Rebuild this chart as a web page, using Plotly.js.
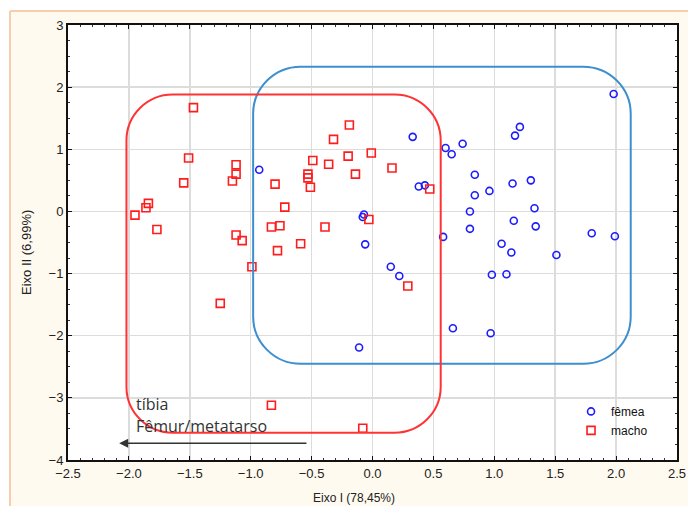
<!DOCTYPE html>
<html>
<head>
<meta charset="utf-8">
<script src="https://cdn.plot.ly/plotly-3.0.1.min.js"></script>
<style>html,body{margin:0;padding:0;background:#fff;}#chart{width:688px;height:506px;}</style>
</head>
<body>
<div id="chart"></div>
<script>
// Female (fêmea) scores
const femeaX = [-0.93, -0.07, -0.08, -0.06, 0.15, 0.22, -0.11, 0.33, 0.60, 0.65, 0.74, 1.17, 1.21, 1.98,
  0.84, 1.15, 1.30, 0.38, 0.43, 0.84, 0.96, 0.80, 1.33, 1.16, 1.34, 0.80, 0.58, 1.06, 1.14, 1.80, 1.99,
  1.51, 0.98, 1.10, 0.66, 0.97];
const femeaY = [0.67, -0.05, -0.09, -0.53, -0.89, -1.04, -2.19, 1.20, 1.02, 0.92, 1.09, 1.22, 1.36, 1.89,
  0.59, 0.45, 0.50, 0.40, 0.42, 0.26, 0.33, 0.00, 0.05, -0.15, -0.24, -0.28, -0.41, -0.52, -0.66, -0.35, -0.40,
  -0.70, -1.02, -1.01, -1.88, -1.96];
// Male (macho) scores
const machoX = [-1.47, -1.51, -1.55, -1.12, -1.12, -1.15, -1.84, -1.86, -1.95, -1.77, -1.12, -1.07,
  -0.19, -0.32, -0.20, -0.01, -0.49, -0.36, 0.16, -0.14, -0.53, -0.53, -0.51, -0.80, -0.72, -0.03,
  -0.83, -0.76, -0.39, -0.78, -0.59, -0.99, -1.25, 0.29, -0.83, -0.08, 0.47];
const machoY = [1.67, 0.86, 0.46, 0.75, 0.60, 0.49, 0.13, 0.06, -0.06, -0.29, -0.38, -0.47,
  1.39, 1.16, 0.89, 0.94, 0.82, 0.76, 0.70, 0.60, 0.60, 0.54, 0.39, 0.44, 0.07, -0.13,
  -0.25, -0.23, -0.25, -0.63, -0.52, -0.89, -1.48, -1.20, -3.12, -3.49, 0.36];

const seriesNames = ['fêmea', 'macho'];
const xTitle = 'Eixo I (78,45%)';
const yTitle = 'Eixo II (6,99%)';
const xTickVals = [-2.5, -2.0, -1.5, -1.0, -0.5, 0.0, 0.5, 1.0, 1.5, 2.0, 2.5];
const yTickVals = [-4, -3, -2, -1, 0, 1, 2, 3];

// group envelopes (data bounds) and arrow annotation
const blueBox = {x0: -0.98, x1: 2.12, y0: -2.45, y1: 2.33};
const redBox = {x0: -2.02, x1: 0.56, y0: -3.56, y1: 1.88};
const arrowFrom = [-0.53, -3.73];
const arrowTo = [-2.08, -3.73];
const label1 = {text: 'tíbia', x: -1.955, y: -3.10};
const label2 = {text: 'Fêmur/metatarso', x: -1.955, y: -3.45};

function roundRect(b, rx, ry) {
  const k = 0.5523;
  const {x0, x1, y0, y1} = b;
  return `M ${x0 + rx},${y1} L ${x1 - rx},${y1} ` +
    `C ${x1 - rx + k * rx},${y1} ${x1},${y1 - ry + k * ry} ${x1},${y1 - ry} ` +
    `L ${x1},${y0 + ry} ` +
    `C ${x1},${y0 + ry - k * ry} ${x1 - rx + k * rx},${y0} ${x1 - rx},${y0} ` +
    `L ${x0 + rx},${y0} ` +
    `C ${x0 + rx - k * rx},${y0} ${x0},${y0 + ry - k * ry} ${x0},${y0 + ry} ` +
    `L ${x0},${y1 - ry} ` +
    `C ${x0},${y1 - ry + k * ry} ${x0 + rx - k * rx},${y1} ${x0 + rx},${y1} Z`;
}

const traces = [
  {x: femeaX, y: femeaY, name: seriesNames[0], type: 'scatter', mode: 'markers',
   marker: {symbol: 'circle-open', size: 7, color: '#1c1cff', line: {width: 1.6, color: '#1c1cff'}}},
  {x: machoX, y: machoY, name: seriesNames[1], type: 'scatter', mode: 'markers',
   marker: {symbol: 'square-open', size: 8, color: '#ff1c1c', line: {width: 1.6, color: '#ff1c1c'}}}
];

const tickFont = {family: 'Liberation Sans, Arial, sans-serif', size: 13, color: '#222'};

const layout = {
  width: 688, height: 506,
  margin: {l: 68, r: 11, t: 25, b: 46},
  paper_bgcolor: '#fffaf0',
  plot_bgcolor: '#ffffff',
  showlegend: true,
  legend: {x: 0.826, y: 0.145, xanchor: 'left', yanchor: 'top', bgcolor: 'rgba(0,0,0,0)',
    font: {family: 'Liberation Sans, Arial, sans-serif', size: 12, color: '#111'},
    itemwidth: 30, tracegroupgap: 0},
  xaxis: {range: [-2.5, 2.5], tickvals: xTickVals, tickformat: '.1f', showgrid: true,
    gridcolor: '#dcdcdc', gridwidth: 1.5, zeroline: false, showline: true, linecolor: '#111', linewidth: 2,
    mirror: 'ticks', ticks: 'inside', ticklen: 4, tickcolor: '#111', tickfont: tickFont,
    minor: {dtick: 0.1, ticks: 'inside', ticklen: 2, tickcolor: '#333', showgrid: false}},
  yaxis: {range: [-4, 3], tickvals: yTickVals, showgrid: true,
    gridcolor: '#dcdcdc', gridwidth: 1.5, zeroline: false, showline: true, linecolor: '#111', linewidth: 2,
    mirror: 'ticks', ticks: 'inside', ticklen: 4, tickcolor: '#111', tickfont: tickFont,
    minor: {dtick: 0.25, ticks: 'inside', ticklen: 2, tickcolor: '#333', showgrid: false}},
  shapes: [
    {type: 'rect', xref: 'paper', yref: 'paper', x0: -0.12, x1: -0.0952, y0: -0.12, y1: 1.08,
     fillcolor: '#ffffff', line: {width: 0}, layer: 'below'},
    {type: 'rect', xref: 'paper', yref: 'paper', x0: -0.12, x1: 1.03, y0: 1.032, y1: 1.08,
     fillcolor: '#ffffff', line: {width: 0}, layer: 'below'},
    {type: 'line', xref: 'paper', yref: 'paper', x0: -0.0952, x1: -0.0952, y0: -0.12, y1: 1.032,
     line: {color: '#f7cdb0', width: 2}, layer: 'below'},
    {type: 'line', xref: 'paper', yref: 'paper', x0: -0.0952, x1: 1.03, y0: 1.032, y1: 1.032,
     line: {color: '#f7cdb0', width: 2}, layer: 'below'},
    {type: 'path', xref: 'x', yref: 'y', path: roundRect(blueBox, 0.39, 0.76),
     line: {color: '#3d8fd0', width: 2}},
    {type: 'path', xref: 'x', yref: 'y', path: roundRect(redBox, 0.38, 0.74),
     line: {color: '#ff3333', width: 2}}
  ],
  annotations: [
    {x: arrowTo[0], y: arrowTo[1], ax: arrowFrom[0], ay: arrowFrom[1], axref: 'x', ayref: 'y',
     xref: 'x', yref: 'y', showarrow: true, arrowhead: 2, arrowsize: 1.2, arrowwidth: 1.5,
     arrowcolor: '#333', text: ''},
    {x: label1.x, y: label1.y, xref: 'x', yref: 'y', text: label1.text, showarrow: false,
     xanchor: 'left', yanchor: 'middle', font: {family: 'Open Sans, sans-serif', size: 16, color: '#333'}},
    {x: label2.x, y: label2.y, xref: 'x', yref: 'y', text: label2.text, showarrow: false,
     xanchor: 'left', yanchor: 'middle', font: {family: 'Open Sans, sans-serif', size: 16, color: '#333'}},
    {x: 0.4696, y: -0.0875, xref: 'paper', yref: 'paper', text: xTitle, showarrow: false,
     xanchor: 'center', yanchor: 'middle', font: {family: 'Liberation Sans, Arial, sans-serif', size: 12, color: '#222'}},
    {x: -0.0673, y: 0.476, xref: 'paper', yref: 'paper', text: yTitle, showarrow: false, textangle: -90,
     xanchor: 'center', yanchor: 'middle', font: {family: 'Liberation Sans, Arial, sans-serif', size: 13, color: '#222'}}
  ]
};

Plotly.newPlot('chart', traces, layout, {staticPlot: true, displayModeBar: false});
</script>
</body>
</html>
